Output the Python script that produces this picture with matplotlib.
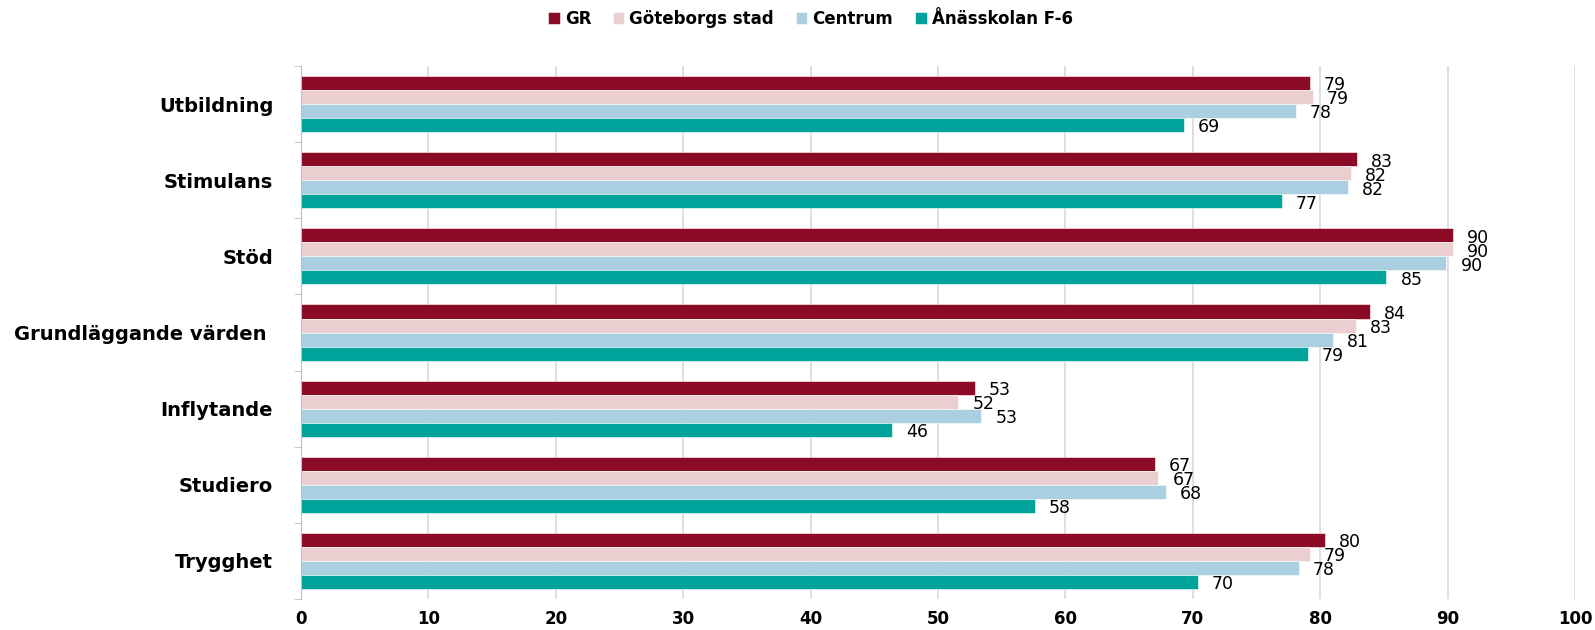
import matplotlib
matplotlib.use('Agg')
import matplotlib.pyplot as plt
import numpy as np

plt.rcParams['font.family'] = ['DejaVu Sans']

categories = ['Utbildning', 'Stimulans', 'Stöd', 'Grundläggande värden ',
              'Inflytande', 'Studiero', 'Trygghet']
series_names = ['GR', 'Göteborgs stad', 'Centrum', 'Ånässkolan F-6']
gr = [79.2, 82.9, 90.4, 83.9, 52.9, 67.0, 80.4]
goteborg = [79.4, 82.4, 90.4, 82.8, 51.6, 67.3, 79.2]
centrum = [78.1, 82.2, 89.9, 81.0, 53.4, 67.9, 78.3]
anas = [69.3, 77.0, 85.2, 79.0, 46.4, 57.6, 70.4]
colors = ['#8B0A25', '#EBCFD0', '#A9CFE0', '#00A39A']

fig = plt.figure(figsize=(15.95, 6.30), dpi=100)
ax = fig.add_axes([0.1887, 0.0492, 0.7988, 0.846])

y = np.arange(len(categories))
h = 0.184
offsets = np.array([-1.5, -0.5, 0.5, 1.5]) * h
for vals, name, col, off in zip([gr, goteborg, centrum, anas], series_names, colors, offsets):
    bars = ax.barh(y + off, vals, h, color=col, label=name, edgecolor='white', linewidth=0.4)
    for b, v in zip(bars, vals):
        ax.text(v + 1.1, b.get_y() + b.get_height() / 2 + 0.03, f'{v:.0f}',
                va='center', ha='left', fontsize=12.5, color='black')

ax.set_xlim(0, 100)
ax.set_ylim(len(categories) - 0.5, -0.5)
ax.set_xticks(np.arange(0, 101, 10))
ax.set_yticks(y)
ax.set_yticklabels(categories, fontsize=14, fontweight='bold')
ax.set_yticks(np.arange(-0.5, len(categories)), minor=True)
ax.tick_params(axis='y', which='major', length=0, pad=20)
ax.tick_params(axis='y', which='minor', length=5, color='#BFBFBF')
ax.tick_params(axis='x', length=0, pad=8, labelsize=12)
for lbl in ax.get_xticklabels():
    lbl.set_fontweight('bold')

ax.grid(axis='x', color='#D9D9D9', linewidth=1.2)
ax.set_axisbelow(True)
for s in ['top', 'right', 'bottom']:
    ax.spines[s].set_visible(False)
ax.spines['left'].set_color('#BFBFBF')

leg = fig.legend(loc='upper center', bbox_to_anchor=(0.508, 1.008), ncol=4, frameon=False,
                 handlelength=0.7, handleheight=0.7, handletextpad=0.3, columnspacing=1.3,
                 prop={'size': 12, 'weight': 'bold'})

fig.savefig('out.png', dpi=100)
